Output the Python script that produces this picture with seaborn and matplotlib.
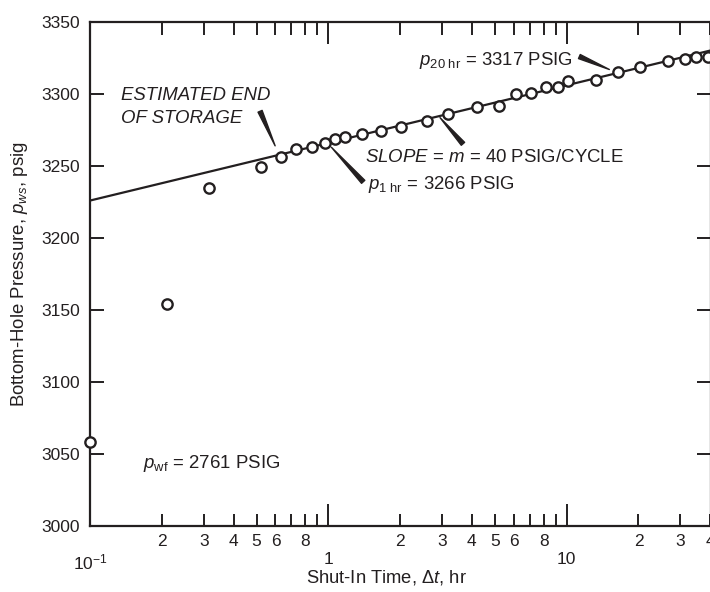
import numpy as np
import pandas as pd
import matplotlib
matplotlib.use('Agg')
import matplotlib.pyplot as plt
from matplotlib.ticker import LogLocator, FuncFormatter, FixedLocator
import seaborn as sns

# shut-in time (hr) and bottom-hole pressure (psig)
shut_in_hr = [0.1, 0.21, 0.315, 0.52, 0.63, 0.73, 0.85, 0.97, 1.07, 1.18,
              1.38, 1.67, 2.01, 2.6, 3.18, 4.21, 5.2, 6.15, 7.05, 8.2,
              9.2, 10.1, 13.3, 16.4, 20.3, 26.7, 31.2, 35.0, 39.0]
p_ws = [3058, 3154, 3235, 3249, 3256, 3262, 3263, 3266, 3269, 3270,
        3272, 3274, 3277, 3281, 3286, 3291, 3292, 3300, 3301, 3305,
        3305, 3309, 3310, 3315, 3319, 3323, 3324, 3325.5, 3325.5]

# semilog straight line, m = 40 psig/cycle, p1hr = 3266
line_t = [0.1, 40.3]
line_p = [3226, 3330.3]

y_ticks = [3000, 3050, 3100, 3150, 3200, 3250, 3300, 3350]
major_labels = {0.1: r'$10^{-1}$', 1: '1', 10: '10'}
minor_shown = [2, 3, 4, 5, 6, 8]

sns.set_style('ticks')
plt.rcParams['font.family'] = ['Liberation Sans', 'DejaVu Sans']
plt.rcParams['mathtext.fontset'] = 'custom'
plt.rcParams['mathtext.rm'] = 'Liberation Sans'
plt.rcParams['mathtext.it'] = 'Liberation Sans:italic'
plt.rcParams['text.color'] = '#231f20'
plt.rcParams['axes.labelcolor'] = '#231f20'

ink = '#231f20'
fig = plt.figure(figsize=(7.1, 5.92), dpi=100)
ax = fig.add_axes([90 / 710, 66 / 592, 621 / 710, 504 / 592])

sns.lineplot(x=line_t, y=line_p, ax=ax, color=ink, linewidth=1.6, zorder=2)
sns.scatterplot(x=shut_in_hr, y=p_ws, ax=ax, marker='o', s=55,
                facecolor='white', edgecolor=ink, linewidth=1.7, zorder=3,
                clip_on=False)

ax.set_xscale('log')
ax.set_xlim(0.1, 40.3)
ax.set_ylim(3000, 3350)

ax.xaxis.set_major_locator(FixedLocator(list(major_labels.keys())))
ax.xaxis.set_major_formatter(FuncFormatter(
    lambda v, pos: major_labels.get(round(v, 3), '')))
ax.xaxis.set_minor_locator(LogLocator(base=10, subs=np.arange(2, 10), numticks=20))


def minor_fmt(v, pos):
    m = int(round(v / 10 ** np.floor(np.log10(v) + 1e-9)))
    return str(m) if m in minor_shown else ''


ax.xaxis.set_minor_formatter(FuncFormatter(minor_fmt))
ax.set_yticks(y_ticks)

for side in ['left', 'bottom', 'top', 'right']:
    ax.spines[side].set_linewidth(1.6)
    ax.spines[side].set_color(ink)

ax.tick_params(axis='both', which='both', direction='in', top=True, right=True,
               color=ink, width=1.4, labelsize=12.5, labelcolor=ink)
ax.tick_params(axis='x', which='major', length=16, pad=19)
ax.tick_params(axis='x', which='minor', length=9, pad=6)
ax.tick_params(axis='y', which='major', length=10, pad=7)

ax.set_xlabel(r'Shut-In Time, $\Delta t$, hr', fontsize=13.2)
ax.set_ylabel(r'Bottom-Hole Pressure, $p_{ws}$, psig', fontsize=13.4)
ax.xaxis.set_label_coords(0.477, -0.083)
ax.yaxis.set_label_coords(-0.097, 0.5)

# annotations
fs = 13.4
ax.text(0.135, 3280, 'ESTIMATED END\nOF STORAGE', fontsize=fs, style='italic',
        ha='left', va='baseline', linespacing=1.45)
ax.text(0.167, 3040, r'$p_{\mathrm{wf}}$ = 2761 PSIG', fontsize=fs,
        ha='left', va='baseline')
ax.text(2.4, 3320, r'$p_{\mathrm{20\ hr}}$ = 3317 PSIG', fontsize=fs,
        ha='left', va='baseline')
ax.text(1.43, 3253, r'$\mathit{SLOPE}$ = $m$ = 40 PSIG/CYCLE', fontsize=fs,
        ha='left', va='baseline')
ax.text(1.47, 3233.7, r'$p_{\mathrm{1\ hr}}$ = 3266 PSIG', fontsize=fs,
        ha='left', va='baseline')

wedge = dict(arrowstyle='wedge,tail_width=0.32', fc=ink, ec=ink,
             shrinkA=0, shrinkB=0, mutation_scale=10)
ax.annotate('', xy=(0.598, 3264), xytext=(0.517, 3288), arrowprops=wedge)
ax.annotate('', xy=(1.03, 3263), xytext=(1.40, 3239), arrowprops=wedge)
ax.annotate('', xy=(2.94, 3283.6), xytext=(3.67, 3265.4), arrowprops=wedge)
ax.annotate('', xy=(15.1, 3317), xytext=(11.3, 3326), arrowprops=wedge)

fig.savefig('out.png', dpi=100)
